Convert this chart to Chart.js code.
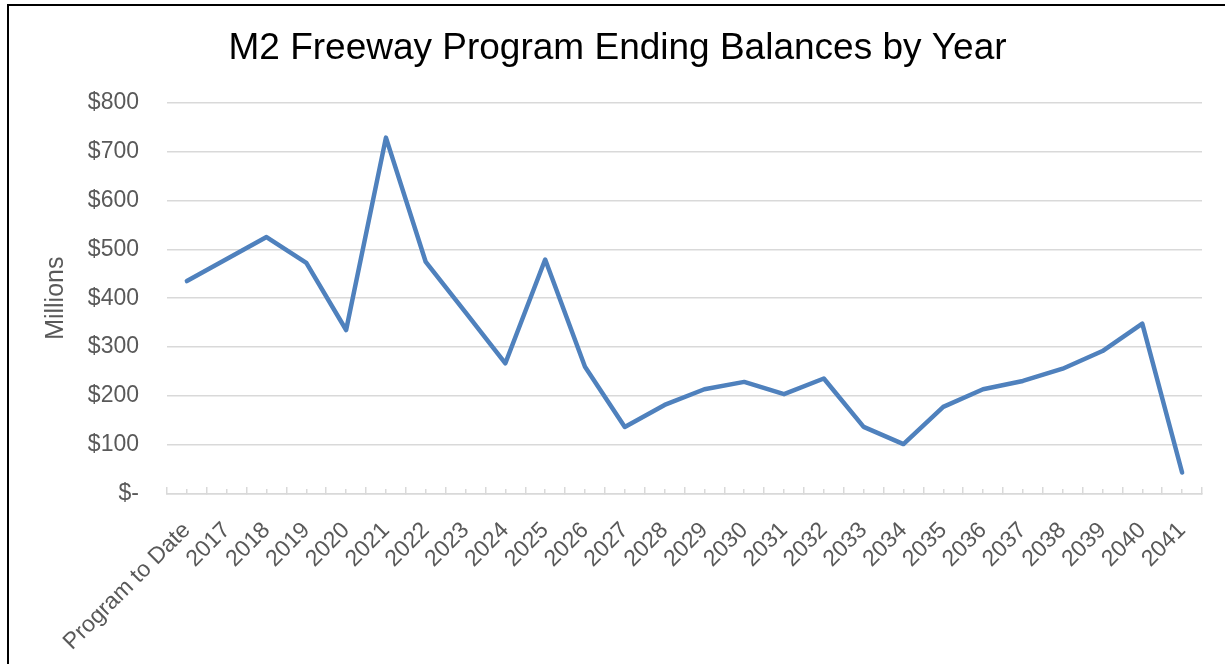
<!DOCTYPE html>
<html>
<head>
<meta charset="utf-8">
<title>M2 Freeway Program Ending Balances by Year</title>
<script src="https://cdn.jsdelivr.net/npm/chart.js@4/dist/chart.umd.min.js"></script>
<style>
    html, body { margin: 0; padding: 0; background: #fff; overflow: hidden; }
    #wrap { position: relative; width: 1225px; height: 664px; }
    #frame { position: absolute; left: 7px; top: 4px; width: 1300px; height: 800px; border: 2px solid #000; pointer-events: none; }
    canvas { position: absolute; left: 0; top: 0; }
</style>
</head>
<body>
<div id="wrap">
    <canvas id="balanceChart" width="1225" height="664"></canvas>
    <div id="frame"></div>
</div>
<script>
// Categories along the x axis
const categories = ['Program to Date', '2017', '2018', '2019', '2020', '2021', '2022', '2023', '2024',
    '2025', '2026', '2027', '2028', '2029', '2030', '2031', '2032', '2033', '2034', '2035', '2036',
    '2037', '2038', '2039', '2040', '2041'];

// Ending balance, $ millions
const balances = [435, 480, 525, 472, 335, 728, 474, 371, 267, 479, 260, 137, 182, 214, 229, 204,
    236, 137, 102, 178, 214, 231, 256, 292, 348, 44];

// Y axis range
const yMin = 0;
const yMax = 800;
const yStep = 100;

const fontFamily = "'Liberation Sans', Arial, sans-serif";
const gridColor = '#D9D9D9';
const labelColor = '#595959';

const ctx = document.getElementById('balanceChart').getContext('2d');
const balanceChart = new Chart(ctx, {
    type: 'line',
    data: {
        labels: categories,
        datasets: [{
            label: 'Ending Balance',
            data: balances,
            borderColor: '#4F81BD',
            borderWidth: 4.5,
            borderJoinStyle: 'round',
            borderCapStyle: 'round',
            pointRadius: 0,
            tension: 0,
            fill: false
        }]
    },
    options: {
        responsive: false,
        animation: false,
        devicePixelRatio: 1,
        layout: {
            padding: { top: 27, left: 33, right: 23, bottom: 0 }
        },
        plugins: {
            legend: { display: false },
            tooltip: { enabled: false },
            title: {
                display: true,
                text: 'M2 Freeway Program Ending Balances by Year',
                color: '#000',
                font: { family: fontFamily, size: 37, weight: 'normal' },
                padding: { top: 0, bottom: 31 }
            }
        },
        scales: {
            y: {
                min: yMin,
                max: yMax,
                ticks: {
                    stepSize: yStep,
                    color: labelColor,
                    font: { family: fontFamily, size: 23 },
                    padding: 28,
                    callback: v => v === 0 ? '$-' : '$' + v
                },
                grid: { color: gridColor, lineWidth: 1.5, drawTicks: false },
                border: { display: false },
                title: {
                    display: true,
                    text: 'Millions',
                    color: labelColor,
                    font: { family: fontFamily, size: 25 },
                    padding: { top: 8, bottom: 0 }
                },
                afterFit: s => { s.width = 134; }
            },
            x: {
                offset: true,
                weight: 1,
                grid: {
                    drawOnChartArea: false,
                    offset: true,
                    tickLength: -7,
                    color: gridColor,
                    lineWidth: 1.5
                },
                border: { color: gridColor, width: 1.5 },
                ticks: {
                    color: labelColor,
                    font: { family: fontFamily, size: 23 },
                    minRotation: 45,
                    maxRotation: 45,
                    autoSkip: false,
                    padding: 30
                },
                afterFit: s => {
                    s.height = 170;
                    s.paddingLeft = 0;
                    s.paddingRight = 0;
                }
            },
            // short tick marks at each category centre
            x2: {
                type: 'category',
                labels: categories,
                position: 'bottom',
                offset: true,
                weight: 0,
                grid: {
                    drawOnChartArea: false,
                    offset: false,
                    tickLength: -5,
                    color: gridColor,
                    lineWidth: 1.5
                },
                border: { display: false },
                ticks: { display: false },
                afterFit: s => {
                    s.height = 0;
                    s.paddingLeft = 0;
                    s.paddingRight = 0;
                }
            }
        }
    }
});
</script>
</body>
</html>
